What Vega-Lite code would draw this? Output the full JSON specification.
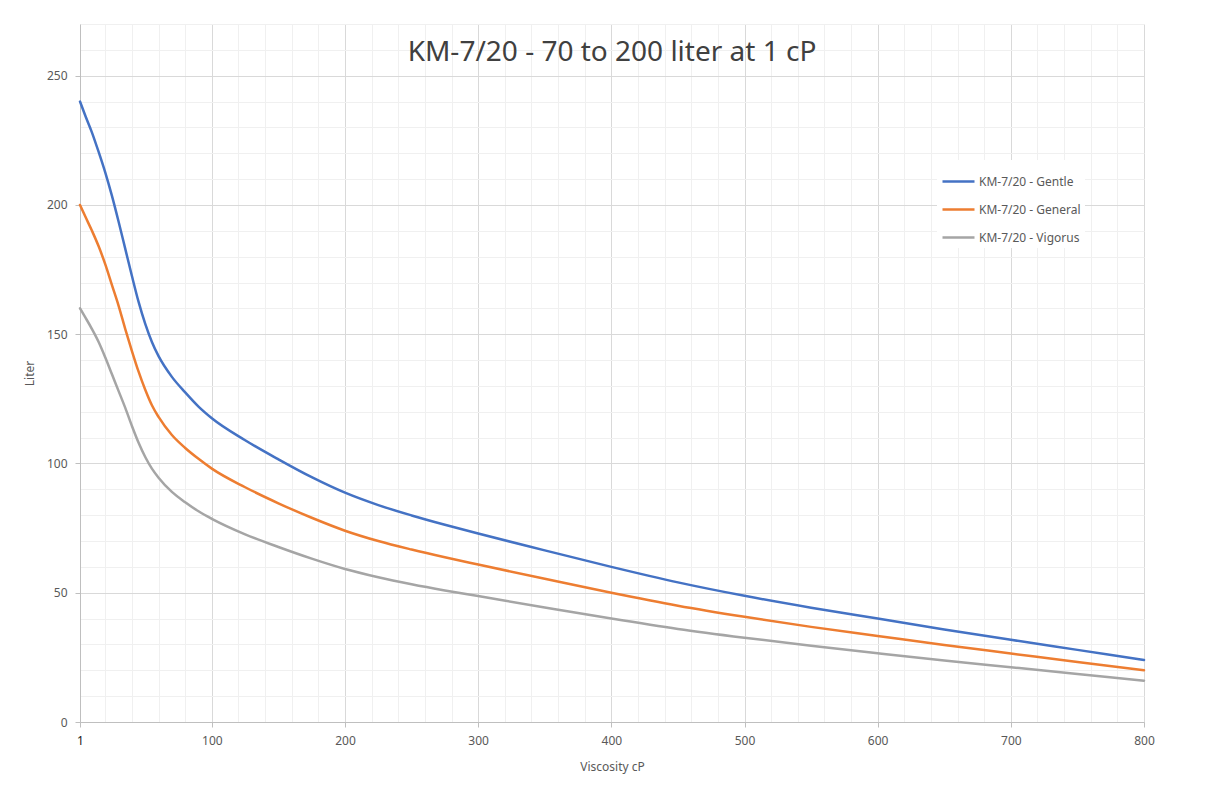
{
  "$schema": "https://vega.github.io/schema/vega-lite/v6.json",
  "autosize": {"type": "none"},
  "padding": {"left": 80, "top": 24, "right": 67, "bottom": 72},
  "width": 1064,
  "height": 698,
  "background": "white",
  "config": {
    "view": {"stroke": null},
    "font": "Noto Sans"
  },
  "title": {
    "text": "KM-7/20 - 70 to 200 liter at 1 cP",
    "fontSize": 28,
    "fontWeight": "normal",
    "font": "Noto Sans",
    "color": "#404040",
    "anchor": "middle",
    "offset": -49
  },
  "data": {
    "values": [
      {"visc": 1, "liter": 240, "series": "KM-7/20 - Gentle"},
      {"visc": 5, "liter": 234.5, "series": "KM-7/20 - Gentle"},
      {"visc": 10, "liter": 228, "series": "KM-7/20 - Gentle"},
      {"visc": 15, "liter": 220.5, "series": "KM-7/20 - Gentle"},
      {"visc": 20, "liter": 212.5, "series": "KM-7/20 - Gentle"},
      {"visc": 25, "liter": 203.5, "series": "KM-7/20 - Gentle"},
      {"visc": 30, "liter": 193.5, "series": "KM-7/20 - Gentle"},
      {"visc": 35, "liter": 183, "series": "KM-7/20 - Gentle"},
      {"visc": 40, "liter": 172.5, "series": "KM-7/20 - Gentle"},
      {"visc": 45, "liter": 162.5, "series": "KM-7/20 - Gentle"},
      {"visc": 50, "liter": 154, "series": "KM-7/20 - Gentle"},
      {"visc": 55, "liter": 147, "series": "KM-7/20 - Gentle"},
      {"visc": 60, "liter": 141.5, "series": "KM-7/20 - Gentle"},
      {"visc": 70, "liter": 133.5, "series": "KM-7/20 - Gentle"},
      {"visc": 80, "liter": 127.5, "series": "KM-7/20 - Gentle"},
      {"visc": 90, "liter": 122, "series": "KM-7/20 - Gentle"},
      {"visc": 100, "liter": 117.5, "series": "KM-7/20 - Gentle"},
      {"visc": 125, "liter": 109, "series": "KM-7/20 - Gentle"},
      {"visc": 150, "liter": 101.6, "series": "KM-7/20 - Gentle"},
      {"visc": 175, "liter": 94.7, "series": "KM-7/20 - Gentle"},
      {"visc": 200, "liter": 88.7, "series": "KM-7/20 - Gentle"},
      {"visc": 225, "liter": 83.9, "series": "KM-7/20 - Gentle"},
      {"visc": 250, "liter": 79.9, "series": "KM-7/20 - Gentle"},
      {"visc": 275, "liter": 76.3, "series": "KM-7/20 - Gentle"},
      {"visc": 300, "liter": 72.9, "series": "KM-7/20 - Gentle"},
      {"visc": 350, "liter": 66.4, "series": "KM-7/20 - Gentle"},
      {"visc": 400, "liter": 60, "series": "KM-7/20 - Gentle"},
      {"visc": 450, "liter": 54, "series": "KM-7/20 - Gentle"},
      {"visc": 500, "liter": 48.8, "series": "KM-7/20 - Gentle"},
      {"visc": 550, "liter": 44.2, "series": "KM-7/20 - Gentle"},
      {"visc": 600, "liter": 40, "series": "KM-7/20 - Gentle"},
      {"visc": 650, "liter": 35.8, "series": "KM-7/20 - Gentle"},
      {"visc": 700, "liter": 31.8, "series": "KM-7/20 - Gentle"},
      {"visc": 750, "liter": 27.9, "series": "KM-7/20 - Gentle"},
      {"visc": 800, "liter": 24, "series": "KM-7/20 - Gentle"},
      {"visc": 1, "liter": 200, "series": "KM-7/20 - General"},
      {"visc": 5, "liter": 195.5, "series": "KM-7/20 - General"},
      {"visc": 10, "liter": 190, "series": "KM-7/20 - General"},
      {"visc": 15, "liter": 184, "series": "KM-7/20 - General"},
      {"visc": 20, "liter": 177, "series": "KM-7/20 - General"},
      {"visc": 25, "liter": 169, "series": "KM-7/20 - General"},
      {"visc": 30, "liter": 161, "series": "KM-7/20 - General"},
      {"visc": 35, "liter": 152, "series": "KM-7/20 - General"},
      {"visc": 40, "liter": 143.5, "series": "KM-7/20 - General"},
      {"visc": 45, "liter": 135.5, "series": "KM-7/20 - General"},
      {"visc": 50, "liter": 128.5, "series": "KM-7/20 - General"},
      {"visc": 55, "liter": 122.5, "series": "KM-7/20 - General"},
      {"visc": 60, "liter": 118, "series": "KM-7/20 - General"},
      {"visc": 70, "liter": 111, "series": "KM-7/20 - General"},
      {"visc": 80, "liter": 106, "series": "KM-7/20 - General"},
      {"visc": 90, "liter": 101.8, "series": "KM-7/20 - General"},
      {"visc": 100, "liter": 98, "series": "KM-7/20 - General"},
      {"visc": 125, "liter": 90.8, "series": "KM-7/20 - General"},
      {"visc": 150, "liter": 84.6, "series": "KM-7/20 - General"},
      {"visc": 175, "liter": 79, "series": "KM-7/20 - General"},
      {"visc": 200, "liter": 74, "series": "KM-7/20 - General"},
      {"visc": 225, "liter": 70, "series": "KM-7/20 - General"},
      {"visc": 250, "liter": 66.7, "series": "KM-7/20 - General"},
      {"visc": 275, "liter": 63.7, "series": "KM-7/20 - General"},
      {"visc": 300, "liter": 60.9, "series": "KM-7/20 - General"},
      {"visc": 350, "liter": 55.4, "series": "KM-7/20 - General"},
      {"visc": 400, "liter": 50, "series": "KM-7/20 - General"},
      {"visc": 450, "liter": 45, "series": "KM-7/20 - General"},
      {"visc": 500, "liter": 40.7, "series": "KM-7/20 - General"},
      {"visc": 550, "liter": 36.8, "series": "KM-7/20 - General"},
      {"visc": 600, "liter": 33.3, "series": "KM-7/20 - General"},
      {"visc": 650, "liter": 29.8, "series": "KM-7/20 - General"},
      {"visc": 700, "liter": 26.5, "series": "KM-7/20 - General"},
      {"visc": 750, "liter": 23.2, "series": "KM-7/20 - General"},
      {"visc": 800, "liter": 20, "series": "KM-7/20 - General"},
      {"visc": 1, "liter": 160, "series": "KM-7/20 - Vigorus"},
      {"visc": 5, "liter": 156.5, "series": "KM-7/20 - Vigorus"},
      {"visc": 10, "liter": 152, "series": "KM-7/20 - Vigorus"},
      {"visc": 15, "liter": 147, "series": "KM-7/20 - Vigorus"},
      {"visc": 20, "liter": 141, "series": "KM-7/20 - Vigorus"},
      {"visc": 25, "liter": 134.5, "series": "KM-7/20 - Vigorus"},
      {"visc": 30, "liter": 128, "series": "KM-7/20 - Vigorus"},
      {"visc": 35, "liter": 121.5, "series": "KM-7/20 - Vigorus"},
      {"visc": 40, "liter": 114.5, "series": "KM-7/20 - Vigorus"},
      {"visc": 45, "liter": 108, "series": "KM-7/20 - Vigorus"},
      {"visc": 50, "liter": 102.5, "series": "KM-7/20 - Vigorus"},
      {"visc": 55, "liter": 98, "series": "KM-7/20 - Vigorus"},
      {"visc": 60, "liter": 94.5, "series": "KM-7/20 - Vigorus"},
      {"visc": 70, "liter": 89, "series": "KM-7/20 - Vigorus"},
      {"visc": 80, "liter": 85, "series": "KM-7/20 - Vigorus"},
      {"visc": 90, "liter": 81.5, "series": "KM-7/20 - Vigorus"},
      {"visc": 100, "liter": 78.6, "series": "KM-7/20 - Vigorus"},
      {"visc": 125, "liter": 72.6, "series": "KM-7/20 - Vigorus"},
      {"visc": 150, "liter": 67.7, "series": "KM-7/20 - Vigorus"},
      {"visc": 175, "liter": 63.2, "series": "KM-7/20 - Vigorus"},
      {"visc": 200, "liter": 59.2, "series": "KM-7/20 - Vigorus"},
      {"visc": 225, "liter": 56, "series": "KM-7/20 - Vigorus"},
      {"visc": 250, "liter": 53.3, "series": "KM-7/20 - Vigorus"},
      {"visc": 275, "liter": 50.9, "series": "KM-7/20 - Vigorus"},
      {"visc": 300, "liter": 48.7, "series": "KM-7/20 - Vigorus"},
      {"visc": 350, "liter": 44.3, "series": "KM-7/20 - Vigorus"},
      {"visc": 400, "liter": 40, "series": "KM-7/20 - Vigorus"},
      {"visc": 450, "liter": 36, "series": "KM-7/20 - Vigorus"},
      {"visc": 500, "liter": 32.6, "series": "KM-7/20 - Vigorus"},
      {"visc": 550, "liter": 29.5, "series": "KM-7/20 - Vigorus"},
      {"visc": 600, "liter": 26.6, "series": "KM-7/20 - Vigorus"},
      {"visc": 650, "liter": 23.8, "series": "KM-7/20 - Vigorus"},
      {"visc": 700, "liter": 21.2, "series": "KM-7/20 - Vigorus"},
      {"visc": 750, "liter": 18.6, "series": "KM-7/20 - Vigorus"},
      {"visc": 800, "liter": 16, "series": "KM-7/20 - Vigorus"}
    ]
  },
  "mark": {"type": "line", "interpolate": "monotone", "strokeWidth": 2.5, "strokeCap": "round"},
  "encoding": {
    "x": {
      "field": "visc",
      "type": "quantitative",
      "title": "Viscosity cP",
      "scale": {"domain": [1, 800], "nice": false, "zero": false},
      "axis": {
        "values": [1, 20, 40, 60, 80, 100, 120, 140, 160, 180, 200, 220, 240, 260, 280, 300, 320, 340, 360, 380, 400, 420, 440, 460, 480, 500, 520, 540, 560, 580, 600, 620, 640, 660, 680, 700, 720, 740, 760, 780, 800],
        "labelExpr": "(datum.value % 100 == 0 || datum.value == 1) ? datum.label : ''",
        "grid": true,
        "gridColor": {"condition": {"test": "datum.value % 100 == 0", "value": "#d9d9d9"}, "value": "#f0f0f0"},
        "gridWidth": 1,
        "tickColor": {"condition": {"test": "datum.value % 100 == 0 || datum.value == 1", "value": "#bfbfbf"}, "value": "transparent"},
        "tickSize": 5,
        "domainColor": "#bfbfbf",
        "labelColor": {"condition": {"test": "datum.value == 1", "value": "#202020"}, "value": "#595959"},
        "labelFontSize": 12,
        "labelFont": "Noto Sans",
        "labelPadding": 8,
        "labelFlush": false,
        "labelOverlap": false,
        "titleColor": "#595959",
        "titleFontSize": 12,
        "titleFont": "Noto Sans",
        "titleFontWeight": "normal",
        "titlePadding": 15
      }
    },
    "y": {
      "field": "liter",
      "type": "quantitative",
      "title": "Liter",
      "scale": {"domain": [0, 270], "nice": false},
      "axis": {
        "values": [0, 10, 20, 30, 40, 50, 60, 70, 80, 90, 100, 110, 120, 130, 140, 150, 160, 170, 180, 190, 200, 210, 220, 230, 240, 250, 260, 270],
        "labelExpr": "datum.value % 50 == 0 ? datum.label : ''",
        "grid": true,
        "gridColor": {"condition": {"test": "datum.value % 50 == 0", "value": "#d9d9d9"}, "value": "#f0f0f0"},
        "gridWidth": 1,
        "tickColor": {"condition": {"test": "datum.value % 50 == 0", "value": "#bfbfbf"}, "value": "transparent"},
        "tickSize": 5,
        "domainColor": "#bfbfbf",
        "labelColor": "#595959",
        "labelFontSize": 12,
        "labelFont": "Noto Sans",
        "labelPadding": 8,
        "labelOverlap": false,
        "titleColor": "#595959",
        "titleFontSize": 12,
        "titleFont": "Noto Sans",
        "titleFontWeight": "normal",
        "titlePadding": 10
      }
    },
    "color": {
      "field": "series",
      "type": "nominal",
      "scale": {
        "domain": ["KM-7/20 - Gentle", "KM-7/20 - General", "KM-7/20 - Vigorus"],
        "range": ["#4472C4", "#ED7D31", "#A5A5A5"]
      },
      "legend": {
        "title": null,
        "orient": "none",
        "legendX": 857,
        "legendY": 136,
        "fillColor": "white",
        "padding": 4,
        "symbolType": "stroke",
        "symbolSize": 1024,
        "symbolStrokeWidth": 2.5,
        "labelFontSize": 12,
        "labelFont": "Noto Sans",
        "labelColor": "#595959",
        "labelOffset": 3,
        "rowPadding": 4
      }
    }
  }
}
